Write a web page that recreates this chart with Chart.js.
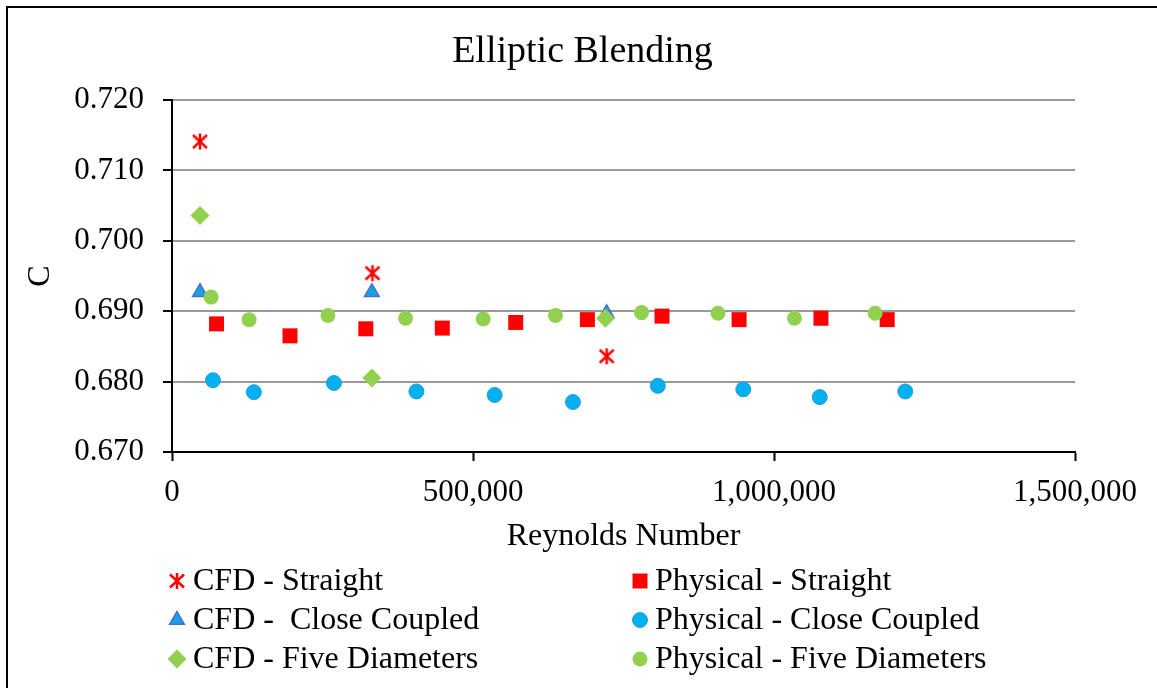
<!DOCTYPE html>
<html>
<head>
<meta charset="utf-8">
<title>Elliptic Blending</title>
<script src="https://cdn.jsdelivr.net/npm/chart.js@4/dist/chart.umd.min.js"></script>
<style>
  html, body { margin: 0; padding: 0; background: #ffffff; }
  #wrap { position: relative; width: 1157px; height: 688px; overflow: hidden; }
</style>
</head>
<body>
<div id="wrap"><canvas id="chart" width="1157" height="688"></canvas></div>
<script>
// Discharge coefficient C against Reynolds number, elliptic blending model
const cfdStraightRe = [46500, 333000, 722000];
const cfdStraightC  = [0.7141, 0.6954, 0.6836];

const physStraightRe = [74000, 196000, 322000, 449000, 571000, 690000, 814000, 942000, 1078000, 1188000];
const physStraightC  = [0.6882, 0.6865, 0.6875, 0.6876, 0.6884, 0.6888, 0.6893, 0.6888, 0.6890, 0.6888];

const cfdCloseRe = [46500, 332000, 722000];
const cfdCloseC  = [0.6927, 0.6927, 0.6897];

const physCloseRe = [68000, 136000, 269000, 406000, 536000, 666000, 807000, 949000, 1076000, 1218000];
const physCloseC  = [0.6802, 0.6785, 0.6798, 0.6786, 0.6781, 0.6771, 0.6794, 0.6789, 0.6778, 0.6786];

const cfdFiveRe = [46500, 332000, 720000];
const cfdFiveC  = [0.7036, 0.6805, 0.6890];

const physFiveRe = [65000, 128000, 259000, 388000, 517000, 637000, 780000, 907000, 1034000, 1168000];
const physFiveC  = [0.6920, 0.6888, 0.6894, 0.6890, 0.6889, 0.6894, 0.6898, 0.6897, 0.6890, 0.6897];

const seriesNames = [
  'CFD - Straight', 'Physical - Straight',
  'CFD -  Close Coupled', 'Physical - Close Coupled',
  'CFD - Five Diameters', 'Physical - Five Diameters'
];

const FONT = '"Liberation Serif", "Times New Roman", serif';

// asterisk marker: an X crossed by a vertical stroke
function makeAsterisk(color) {
  const c = document.createElement('canvas');
  c.width = 18; c.height = 18;
  const g = c.getContext('2d');
  g.strokeStyle = color;
  g.lineWidth = 2.5;
  g.lineCap = 'butt';
  g.beginPath();
  g.moveTo(2, 2.5); g.lineTo(16, 15.5);
  g.moveTo(16, 2.5); g.lineTo(2, 15.5);
  g.moveTo(9, 1); g.lineTo(9, 17);
  g.stroke();
  return c;
}
const asterisk = makeAsterisk('#ff0000');

function pts(xs, ys) { return xs.map((x, i) => ({ x: x, y: ys[i] })); }

const styles = [
  { pointStyle: asterisk,   radius: 9,    bg: '#ff0000', border: '#ff0000', bw: 0 },
  { pointStyle: 'rect',     radius: 10.6, bg: '#ff0000', border: '#ff0000', bw: 0 },
  { pointStyle: 'triangle', radius: 8.5,  bg: '#1c9fe4', border: '#4472c4', bw: 1.5 },
  { pointStyle: 'circle',   radius: 7.5,  bg: '#00b0f0', border: '#2a9fd6', bw: 1 },
  { pointStyle: 'rectRot',  radius: 9.5,  bg: '#92d050', border: '#92d050', bw: 0 },
  { pointStyle: 'circle',   radius: 7.5,  bg: '#92d050', border: '#92d050', bw: 0 }
];

const seriesData = [
  pts(cfdStraightRe, cfdStraightC),
  pts(physStraightRe, physStraightC),
  pts(cfdCloseRe, cfdCloseC),
  pts(physCloseRe, physCloseC),
  pts(cfdFiveRe, cfdFiveC),
  pts(physFiveRe, physFiveC)
];

const datasets = seriesData.map((d, i) => ({
  label: seriesNames[i],
  data: d,
  showLine: false,
  pointStyle: styles[i].pointStyle,
  pointRadius: styles[i].radius,
  pointHoverRadius: styles[i].radius,
  pointBackgroundColor: styles[i].bg,
  pointBorderColor: styles[i].border,
  pointBorderWidth: styles[i].bw,
  order: 5 - i
}));

// outer frame lines
const framePlugin = {
  id: 'frame',
  beforeDraw(chart) {
    const ctx = chart.ctx;
    ctx.save();
    ctx.fillStyle = '#ffffff';
    ctx.fillRect(0, 0, chart.width, chart.height);
    ctx.strokeStyle = '#000000';
    ctx.lineWidth = 2;
    ctx.beginPath();
    ctx.moveTo(7, chart.height);
    ctx.lineTo(7, 7);
    ctx.lineTo(chart.width, 7);
    ctx.stroke();
    ctx.restore();
  }
};

function drawMarker(ctx, i, x, y) {
  const s = styles[i];
  ctx.save();
  ctx.fillStyle = s.bg;
  ctx.strokeStyle = s.border;
  ctx.lineWidth = s.bw;
  if (Chart.helpers && Chart.helpers.drawPoint) {
    Chart.helpers.drawPoint(ctx, { pointStyle: s.pointStyle, radius: s.radius, rotation: 0, borderWidth: s.bw }, x, y);
  } else if (s.pointStyle instanceof HTMLCanvasElement) {
    ctx.drawImage(s.pointStyle, x - s.pointStyle.width / 2, y - s.pointStyle.height / 2);
  } else {
    ctx.beginPath();
    ctx.arc(x, y, 7.5, 0, Math.PI * 2);
    ctx.fill();
  }
  ctx.restore();
}

// two-column legend below the x-axis title
const legendPlugin = {
  id: 'gridLegend',
  afterDraw(chart) {
    const ctx = chart.ctx;
    const rows = [581, 620, 659];
    const cols = [{ mx: 177, tx: 193 }, { mx: 640, tx: 655 }];
    ctx.save();
    ctx.font = '32px ' + FONT;
    ctx.fillStyle = '#000000';
    ctx.textBaseline = 'middle';
    ctx.textAlign = 'left';
    for (let i = 0; i < seriesNames.length; i++) {
      const col = cols[i % 2];
      const row = rows[Math.floor(i / 2)];
      drawMarker(ctx, i, col.mx, row);
      ctx.fillText(seriesNames[i], col.tx, row + 1);
    }
    ctx.restore();
  }
};

new Chart(document.getElementById('chart'), {
  type: 'scatter',
  data: { datasets: datasets },
  plugins: [framePlugin, legendPlugin],
  options: {
    responsive: false,
    animation: false,
    events: [],
    layout: { padding: { top: 0, left: 8, right: 0, bottom: 128 } },
    plugins: {
      legend: { display: false },
      tooltip: { enabled: false },
      title: {
        display: true,
        text: 'Elliptic Blending',
        color: '#000000',
        font: { family: FONT, size: 38, weight: 'normal', lineHeight: 1.2 },
        padding: { top: 29, bottom: 25.4 }
      }
    },
    scales: {
      x: {
        type: 'linear',
        min: 0,
        max: 1500000,
        afterFit(scale) { scale.height = 108; },
        ticks: {
          stepSize: 500000,
          color: '#000000',
          padding: 13,
          maxRotation: 0,
          autoSkip: false,
          font: { family: FONT, size: 31 },
          callback: v => Number(v).toLocaleString('en-US')
        },
        grid: {
          drawOnChartArea: false,
          drawTicks: true,
          tickLength: 9,
          tickColor: '#000000',
          tickWidth: 2
        },
        border: { display: true, color: '#000000', width: 2 },
        title: {
          display: true,
          text: 'Reynolds Number',
          color: '#000000',
          font: { family: FONT, size: 32, lineHeight: 1.2 },
          padding: { top: 0, bottom: 4 }
        }
      },
      y: {
        type: 'linear',
        min: 0.67,
        max: 0.72,
        afterFit(scale) { scale.width = 164; },
        ticks: {
          stepSize: 0.01,
          color: '#000000',
          padding: 19,
          font: { family: FONT, size: 31 },
          callback: v => Number(v).toFixed(3)
        },
        grid: {
          color: '#999999',
          lineWidth: 2,
          drawTicks: true,
          tickLength: 9,
          tickColor: '#000000',
          tickWidth: 2
        },
        border: { display: true, color: '#000000', width: 2 },
        title: {
          display: true,
          text: 'C',
          color: '#000000',
          font: { family: FONT, size: 32, lineHeight: 1.2 },
          padding: { top: 13, bottom: 0 }
        }
      },
      // empty right-hand margin that keeps the plot area clear of the canvas edge
      spacer: {
        type: 'linear',
        position: 'right',
        display: true,
        afterFit(scale) { scale.width = 82; },
        ticks: { display: false },
        grid: { display: false, drawTicks: false },
        border: { display: false },
        title: { display: false }
      }
    }
  }
});
</script>
</body>
</html>
